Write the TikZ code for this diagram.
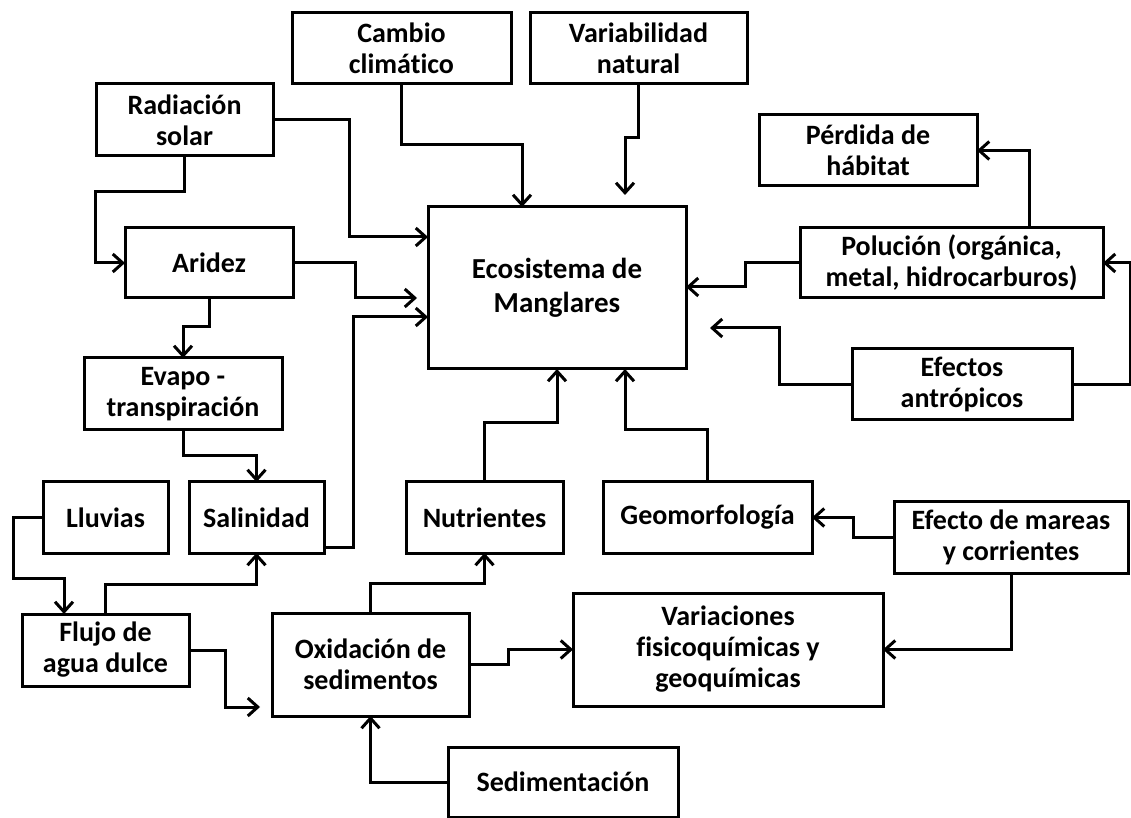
\documentclass[tikz,border=0pt]{standalone}
\usepackage{fontspec}
\setmainfont{Carlito}[Ligatures=NoCommon]
\usepackage{tikz}
\usetikzlibrary{arrows.meta, calc}
\tikzstyle{box} = [draw, line width=1.5pt, inner sep=0pt, outer sep=0pt, align=center, font=\bfseries\fontsize{14}{15.5}\selectfont]
\tikzstyle{link} = [line width=1.5pt, -{Straight Barb[length=5pt,width=9pt]}]

\begin{document}
\begin{tikzpicture}[x=0.5pt,y=-0.5pt]
  \useasboundingbox (0,0) rectangle (1131,818);

  % Boxes, top row
  \node[box, minimum width=109.5pt, minimum height=35.5pt] (cambio) at (401.5,48.5) {Cambio\\climático};
  \node[box, minimum width=108.5pt, minimum height=35.5pt] (variab) at (638.5,48.5) {Variabilidad\\natural};
  \node[box, minimum width=88.5pt, minimum height=36pt] (radiacion) at (184.5,120) {Radiación\\solar};
  \node[box, minimum width=109pt, minimum height=35.5pt] (perdida) at (868,150.5) {Pérdida de\\hábitat};

  % Central box
  \node[box, minimum width=129pt, minimum height=81pt, font=\bfseries\fontsize{14.5}{17}\selectfont] (eco) at (557,288) {Ecosistema de\\Manglares};

  % Left column
  \node[box, minimum width=84pt, minimum height=35pt] (aridez) at (209,263) {Aridez};
  \node[box, minimum width=99pt, minimum height=36pt] (evapo) at (183,394) {Evapo -\\transpiración};
  \node[box, minimum width=62.5pt, minimum height=35.5pt] (lluvias) at (105.5,517.5) {Lluvias};
  \node[box, minimum width=67.5pt, minimum height=35.5pt] (salinidad) at (256.5,517.5) {Salinidad};
  \node[box, minimum width=83.5pt, minimum height=36pt] (flujo) at (105.5,650) {Flujo de\\agua dulce};

  % Right column
  \node[box, minimum width=151.5pt, minimum height=35pt] (polucion) at (951.5,263) {Polución (orgánica,\\metal, hidrocarburos)};
  \node[box, minimum width=110pt, minimum height=35.5pt] (efectos) at (962,384.5) {Efectos\\antrópicos};
  \node[box, minimum width=117pt, minimum height=36pt] (mareas) at (1011,537) {Efecto de mareas\\y corrientes};

  % Bottom part
  \node[box, minimum width=78.5pt, minimum height=35.5pt] (nutrientes) at (484.5,517.5) {Nutrientes};
  \node[box, minimum width=104.5pt, minimum height=35.5pt] (geomorf) at (707.5,517.5) {Geomorfología};
  \node[box, minimum width=98.5pt, minimum height=51.5pt] (oxid) at (370.5,664.5) {Oxidación de\\sedimentos};
  \node[box, minimum width=155pt, minimum height=56.5pt] (variac) at (728,649.5) {Variaciones\\fisicoquímicas y\\geoquímicas};
  \node[box, minimum width=115pt, minimum height=35pt] (sedim) at (563,782) {Sedimentación};

  % Into the ecosystem from above
  \draw[link] (cambio.south) |- (522,145) -- ($(eco.north west)+(94,0)$);
  \draw[link, shorten >=6pt] (variab.south) |- (625,138) -- ($(eco.north west)+(197,0)$);

  % Into the ecosystem from the left
  \draw[link] (radiacion.east) -| (349,237) -- ($(eco.north west)+(0,30)$);
  \draw[link, shorten >=5.5pt] (aridez.east) -| (355,298) -- ($(eco.north west)+(0,91)$);
  \draw[link] ($(salinidad.south east)+(0,-6)$) -| (353,317) -- ($(eco.north west)+(0,110)$);

  % Left chain
  \draw[link] (radiacion.south) |- (95,192) |- (aridez.west);
  \draw[link] (aridez.south) -- ++(0,29) -| (evapo.north);
  \draw[link] (evapo.south) -- ++(0,26) -| (salinidad.north);
  \draw[link] (lluvias.west) -| (13,578) -| ($(flujo.north west)+(42,0)$);
  \draw[link] (flujo.north) -- ++(0,-30) -| (salinidad.south);
  \draw[link, shorten >=6pt] (flujo.east) -| (225,707) -- ($(oxid.south west)+(0,-9)$);

  % Bottom chain
  \draw[link] (sedim.west) -| (oxid.south);
  \draw[link] (oxid.north) -- ++(0,-30) -| (nutrientes.south);
  \draw[link] (oxid.east) -- ++(39,0) |- (variac.west);
  \draw[link] (nutrientes.north) -- ++(0,-59) -| (eco.south);
  \draw[link] (geomorf.north) -- ++(0,-52) -| ($(eco.south west)+(197,0)$);
  \draw[link] (mareas.west) -- ++(-41,0) |- (geomorf.east);
  \draw[link] (mareas.south) |- (variac.east);

  % Right side
  \draw[link] (polucion.west) -- ++(-55,0) |- ($(eco.north east)+(0,80)$);
  \draw[link] ($(polucion.north west)+(229,0)$) |- (perdida.east);
  \draw[link, shorten >=12pt] (efectos.west) -- ++(-73,0) |- ($(eco.north east)+(0,121)$);
  \draw[link] (efectos.east) -- ++(58,0) |- (polucion.east);
\end{tikzpicture}
\end{document}
